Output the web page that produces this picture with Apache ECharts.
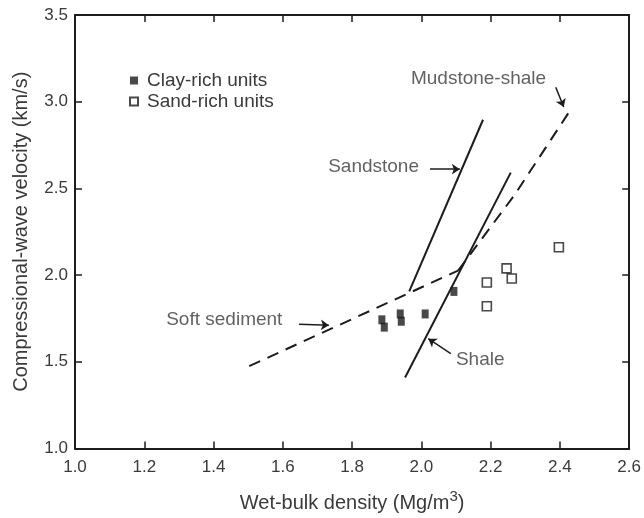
<!DOCTYPE html>
<html>
<head>
<meta charset="utf-8">
<script src="https://cdn.jsdelivr.net/npm/echarts@6/dist/echarts.min.js"></script>
<style>
  html, body { margin: 0; padding: 0; background: #fff; }
  #chart { width: 644px; height: 518px; }
</style>
</head>
<body>
<div id="chart"></div>
<script>
// measured points [density, velocity]
const clayRich = [[1.886, 1.742], [1.893, 1.70], [1.939, 1.776], [1.942, 1.734], [2.011, 1.776], [2.094, 1.906]];
const sandRich = [[2.397, 2.161], [2.246, 2.039], [2.261, 1.98], [2.189, 1.957], [2.189, 1.82]];

// trend lines
const sandstone = [[1.965, 1.906], [2.178, 2.896]];
const shale = [[1.953, 1.409], [2.258, 2.591]];
const softSediment = [[1.503, 1.475], [2.106, 2.026]];
const mudstoneShale = [[2.106, 2.026], [2.27, 2.465], [2.43, 2.951]];

// annotations
const noteText = ['Sandstone', 'Mudstone-shale', 'Soft sediment', 'Shale'];
const notePos = [[1.862, 2.627], [2.165, 3.134], [1.431, 1.74], [2.17, 1.51]];
const arrowFrom = [[2.025, 2.611], [2.388, 3.083], [1.647, 1.717], [2.085, 1.547]];
const arrowTo = [[2.111, 2.611], [2.411, 2.969], [1.733, 1.711], [2.020, 1.633]];

const xTicks = ['1.0', '1.2', '1.4', '1.6', '1.8', '2.0', '2.2', '2.4', '2.6'];
const yTicks = ['1.0', '1.5', '2.0', '2.5', '3.0', '3.5'];

const FONT = "'Liberation Sans', Arial, Helvetica, sans-serif";
const INK = '#1c1c1c';
const TXT = '#3a3a3a';

const chart = echarts.init(document.getElementById('chart'));

const axisCommon = {
  axisLine: { show: true, onZero: false, lineStyle: { color: INK, width: 2 } },
  axisTick: { show: true, inside: true, length: 7, lineStyle: { color: INK, width: 1.5 } },
  splitLine: { show: false }
};

const lineSeries = (name, data, dashed) => ({
  name: name,
  type: 'line',
  data: data,
  showSymbol: false,
  symbol: 'none',
  silent: true,
  lineStyle: { color: INK, width: 2, type: dashed ? [12, 8] : 'solid' },
  z: 3
});

chart.setOption({
  animation: false,
  textStyle: { fontFamily: FONT },
  grid: { left: 75, right: 12, top: 15, bottom: 66 },
  legend: {
    data: ['Clay-rich units', 'Sand-rich units'],
    orient: 'vertical',
    left: 124,
    top: 66,
    itemWidth: 8,
    itemHeight: 8,
    itemGap: 2,
    selectedMode: false,
    textStyle: { fontSize: 19, color: TXT, padding: [0, 0, 0, 4] }
  },
  xAxis: [
    Object.assign({}, axisCommon, {
      type: 'value', min: 1.0, max: 2.6, interval: 0.2, position: 'bottom',
      name: 'Wet-bulk density (Mg/m{sup|3})',
      nameLocation: 'middle', nameGap: 41,
      nameTextStyle: {
        fontSize: 20, color: TXT,
        rich: { sup: { fontSize: 15, color: TXT, padding: [0, 0, 12, 0] } }
      },
      axisLabel: {
        fontSize: 17, color: TXT, margin: 10,
        formatter: (v) => xTicks[Math.round((v - 1.0) / 0.2)]
      }
    }),
    Object.assign({}, axisCommon, {
      type: 'value', min: 1.0, max: 2.6, interval: 0.2, position: 'top',
      axisLabel: { show: false }
    })
  ],
  yAxis: [
    Object.assign({}, axisCommon, {
      type: 'value', min: 1.0, max: 3.5, interval: 0.5, position: 'left',
      name: 'Compressional-wave velocity (km/s)',
      nameLocation: 'middle', nameGap: 44,
      nameTextStyle: { fontSize: 20, color: TXT },
      axisLabel: {
        fontSize: 17, color: TXT, margin: 7,
        formatter: (v) => yTicks[Math.round((v - 1.0) / 0.5)]
      }
    }),
    Object.assign({}, axisCommon, {
      type: 'value', min: 1.0, max: 3.5, interval: 0.5, position: 'right',
      axisLabel: { show: false }
    })
  ],
  series: [
    lineSeries('Sandstone line', sandstone, false),
    lineSeries('Shale line', shale, false),
    lineSeries('Soft sediment line', softSediment, true),
    lineSeries('Mudstone-shale line', mudstoneShale, true),
    {
      name: 'Clay-rich units',
      type: 'scatter',
      data: clayRich,
      symbol: 'rect',
      symbolSize: [7, 9],
      itemStyle: { color: INK },
      z: 5
    },
    {
      name: 'Sand-rich units',
      type: 'scatter',
      data: sandRich,
      symbol: 'rect',
      symbolSize: 9,
      itemStyle: { color: '#fff', borderColor: INK, borderWidth: 1.6 },
      z: 5
    },
    {
      name: 'notes',
      type: 'scatter',
      silent: true,
      symbolSize: 0,
      itemStyle: { color: 'transparent' },
      data: noteText.map((t, i) => ({ name: t, value: notePos[i] })),
      label: {
        show: true, position: 'inside', formatter: '{b}',
        fontSize: 19, color: TXT, fontFamily: FONT
      },
      markLine: {
        silent: true,
        animation: false,
        symbol: ['none', 'arrow'],
        symbolSize: 8,
        label: { show: false },
        lineStyle: { color: INK, width: 1.5, type: 'solid' },
        data: arrowFrom.map((p, i) => [{ coord: p }, { coord: arrowTo[i] }])
      },
      z: 4
    }
  ]
});
</script>
</body>
</html>
